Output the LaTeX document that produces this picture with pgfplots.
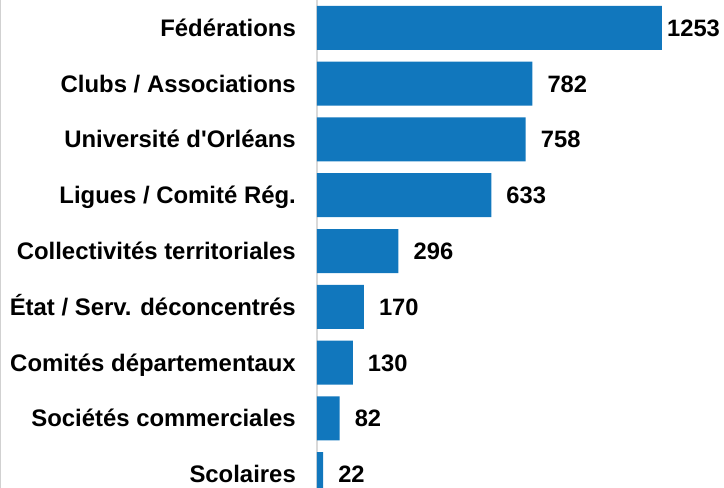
\documentclass[border=0pt]{standalone}
\usepackage{fontspec}
\setmainfont{Liberation Sans}[Ligatures=TeXOff]
\usepackage{pgfplots}
\pgfplotsset{compat=1.18}
\definecolor{barblue}{RGB}{17,119,189}
\begin{document}
\begin{tikzpicture}[x=1pt,y=1pt]
\useasboundingbox (0,0) rectangle (724,488);
\draw[black!18, line width=1pt] (0.5,0) -- (0.5,488);
\begin{axis}[
  at={(317pt,0pt)}, anchor=south west,
  scale only axis, width=407pt, height=488pt,
  xmin=0, xmax=1478.2,
  ymin=-0.5022, ymax=8.2511, y dir=reverse,
  axis x line=none, axis y line*=left,
  y axis line style={draw=black!15, line width=2pt, -},
  xtick=\empty,
  ytick={0,...,8},
  yticklabels={Fédérations, Clubs / Associations, Université d'Orléans, Ligues / Comité Rég., Collectivités territoriales, État / Serv. déconcentrés, Comités départementaux, Sociétés commerciales, Scolaires},
  major tick length=0pt,
  yticklabel style={font=\bfseries\fontsize{23.9}{28}\selectfont, anchor=east, inner sep=0pt, text height=17pt, text depth=0pt, xshift=-21pt},
]
\addplot[xbar, bar width=44pt, fill=barblue, draw=none] coordinates {
  (1253,0) (782,1) (758,2) (633,3) (296,4) (170,5) (130,6) (82,7) (22,8)};
\addplot[draw=none, mark=none, nodes near coords, point meta=explicit symbolic,
  every node near coord/.style={anchor=west, inner sep=0pt, font=\bfseries\fontsize{23.7}{28}\selectfont, text height=17pt, text depth=0pt, black}]
  table[meta=l] {
x y l
1271.2 0 1253
836.5 1 782
812.5 2 758
687.5 3 633
350.5 4 296
224.5 5 170
184.5 6 130
136.5 7 82
76.5 8 22
};
\end{axis}
\end{tikzpicture}
\end{document}
